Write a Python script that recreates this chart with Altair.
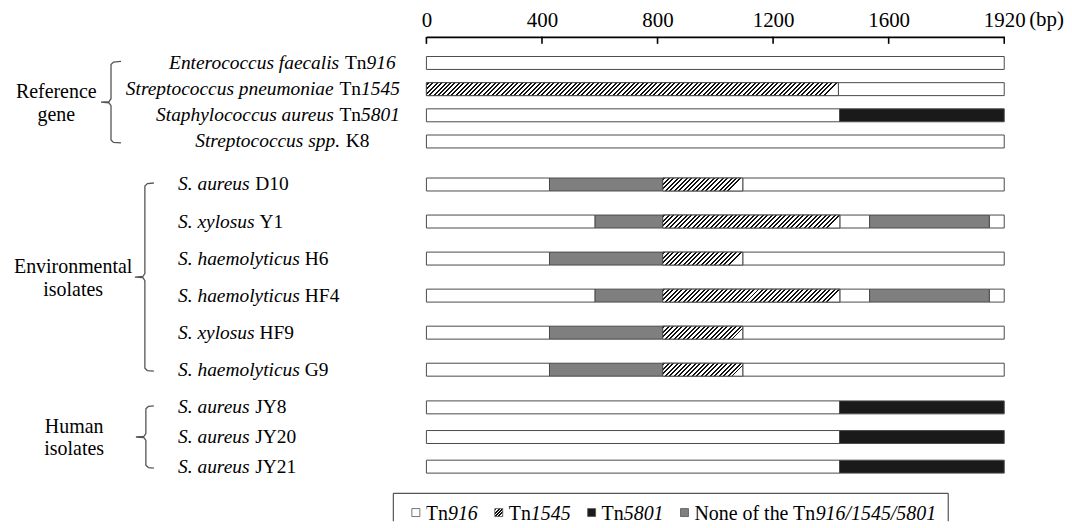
import altair as alt
import pandas as pd

# ------------------------------------------------------------------ data
row_ids = ["ef", "sp", "sa", "ss", "d10", "y1", "h6", "hf4", "hf9", "g9", "jy8", "jy20", "jy21"]
row_group = ["ref", "ref", "ref", "ref", "env", "env", "env", "env", "env", "env", "hum", "hum", "hum"]
label_species = ["Enterococcus faecalis", "Streptococcus pneumoniae", "Staphylococcus aureus",
                 "Streptococcus spp.", "S. aureus", "S. xylosus", "S. haemolyticus",
                 "S. haemolyticus", "S. xylosus", "S. haemolyticus", "S. aureus", "S. aureus",
                 "S. aureus"]
label_strain = ["Tn", "Tn", "Tn", "K8", "D10", "Y1", "H6", "HF4", "HF9", "G9", "JY8", "JY20", "JY21"]
label_number = ["916", "1545", "5801", "", "", "", "", "", "", "", "", "", ""]

group_ids = ["ref", "env", "hum"]
group_lines = [["Reference", "gene"], ["Environmental", "isolates"], ["Human", "isolates"]]

seg_row = ["ef",
           "sp", "sp",
           "sa", "sa",
           "ss",
           "d10", "d10", "d10", "d10",
           "y1", "y1", "y1", "y1", "y1", "y1",
           "h6", "h6", "h6", "h6",
           "hf4", "hf4", "hf4", "hf4", "hf4", "hf4",
           "hf9", "hf9", "hf9", "hf9",
           "g9", "g9", "g9", "g9",
           "jy8", "jy8", "jy20", "jy20", "jy21", "jy21"]
seg_start = [0,
             0, 1426,
             0, 1430,
             0,
             0, 426, 818, 1095,
             0, 584, 818, 1431, 1534, 1879,
             0, 426, 818, 1095,
             0, 584, 818, 1431, 1534, 1879,
             0, 426, 818, 1095,
             0, 426, 818, 1095,
             0, 1430, 0, 1430, 0, 1430]
seg_end = [1920,
           1426, 1920,
           1430, 1920,
           1920,
           426, 818, 1095, 1920,
           584, 818, 1431, 1534, 1879, 1920,
           426, 818, 1095, 1920,
           584, 818, 1431, 1534, 1879, 1920,
           426, 818, 1095, 1920,
           426, 818, 1095, 1920,
           1430, 1920, 1430, 1920, 1430, 1920]
seg_type = ["Tn916",
            "Tn1545", "Tn916",
            "Tn916", "Tn5801",
            "Tn916",
            "Tn916", "None", "Tn1545", "Tn916",
            "Tn916", "None", "Tn1545", "Tn916", "None", "Tn916",
            "Tn916", "None", "Tn1545", "Tn916",
            "Tn916", "None", "Tn1545", "Tn916", "None", "Tn916",
            "Tn916", "None", "Tn1545", "Tn916",
            "Tn916", "None", "Tn1545", "Tn916",
            "Tn916", "Tn5801", "Tn916", "Tn5801", "Tn916", "Tn5801"]

axis_ticks = [0, 400, 800, 1200, 1600, 1920]
axis_unit = "(bp)"

legend_types = ["Tn916", "Tn1545", "Tn5801", "None"]
legend_prefix = ["Tn", "Tn", "Tn", "None of the Tn"]
legend_number = ["916", "1545", "5801", "916/1545/5801"]

# ------------------------------------------------------------------ style / layout
FONT = "Liberation Serif, Times New Roman, serif"
PLOT_LEFT = 426.6                       # page x of 0 bp
PLOT_W = 580
AX_RANGE = [0, 116, 232, 348, 464, 580]  # evenly spaced ticks, as in the figure
AXIS_Y = 35.0
BAR_H = 13.0
ROW_FS = 19.5
GROUP_FS = 20
GROUP_LH = 23
AXIS_FS = 21
LEG_FS = 20
STROKE = "#4a4a4a"
FILLS = {"Tn916": "#ffffff", "Tn1545": "#ffffff", "Tn5801": "#1a1a1a", "None": "#7f7f7f"}

group_first_center = [61.2, 182.4, 405.4]
group_step = [26.27, 37.18, 29.75]
group_label_cx = [55, 72, 73]
bracket_vx = [110, 144, 145]
bracket_hx = [120, 153, 153]
bracket_tx = [100, 134, 135]
bracket_top_ext = [1.5, 1.5, 1.5]
bracket_bot_ext = [1.5, 1.5, 1.5]

W_RM = {' ': 250, '(': 333, ')': 333, '.': 250, '/': 278, 'A': 722, 'D': 722, 'E': 611, 'F': 556,
        'G': 722, 'H': 722, 'J': 389, 'K': 722, 'N': 722, 'T': 611, 'Y': 722, 'a': 444, 'b': 500,
        'e': 444, 'f': 333, 'h': 500, 'n': 500, 'o': 500, 'p': 500, 't': 278}
W_IT = {' ': 250, '.': 250, '/': 278, 'E': 611, 'S': 500, 'a': 500, 'c': 444, 'e': 444, 'f': 278,
        'h': 500, 'i': 278, 'l': 278, 'm': 722, 'n': 500, 'o': 500, 'p': 500, 'r': 389, 's': 389,
        't': 278, 'u': 500, 'x': 444, 'y': 444}


def tw(s, italic, size):
    tbl = W_IT if italic else W_RM
    return sum(tbl.get(ch, 500) for ch in s) * size / 1000.0


def rel(page_x):
    return page_x - PLOT_LEFT


def bp_to_px(v):
    for i in range(len(axis_ticks) - 1):
        a, b = axis_ticks[i], axis_ticks[i + 1]
        if v <= b or i == len(axis_ticks) - 2:
            return AX_RANGE[i] + (v - a) / (b - a) * (AX_RANGE[i + 1] - AX_RANGE[i])


def hatch_fill(wpx, hpx, period=4.5, ink=2.0, color="#111111"):
    r = hpx / wpx
    tmax = wpx * (1 + r * r)
    stops = [{"offset": 0, "color": "#ffffff"}]
    k = 0
    while True:
        a = (k * period + 1.0) / tmax
        b = (k * period + 1.0 + ink) / tmax
        if a >= 1:
            break
        b = min(b, 1.0)
        stops += [{"offset": round(a, 5), "color": "#ffffff"},
                  {"offset": round(a, 5), "color": color},
                  {"offset": round(b, 5), "color": color},
                  {"offset": round(b, 5), "color": "#ffffff"}]
        k += 1
    stops.append({"offset": 1, "color": "#ffffff"})
    return alt.LinearGradient(gradient="linear", stops=stops, x1=0, y1=0, x2=1, y2=round(r, 6))


xscale = alt.Scale(domain=axis_ticks, range=AX_RANGE, nice=False, zero=False)

seg_df = pd.DataFrame({"row": seg_row, "start": seg_start, "end": seg_end, "type": seg_type})
seg_df["wpx"] = [round(bp_to_px(e) - bp_to_px(s), 1) for s, e in zip(seg_start, seg_end)]

# label pieces
pieces = []
for i, rid in enumerate(row_ids):
    parts = [(label_species[i] + " ", True), (label_strain[i], False)]
    if label_number[i]:
        parts.append((label_number[i], True))
    width = sum(tw(t, it, ROW_FS) for t, it in parts)
    if row_group[i] == "ref":
        x0 = min(282 - width / 2, 400 - width)
    else:
        x0 = 177.3
    x = rel(x0)
    for t, it in parts:
        pieces.append({"row": rid, "x": x, "txt": t, "it": it})
        x += tw(t, it, ROW_FS)
pieces_df = pd.DataFrame(pieces)

top_axis = alt.Axis(orient="top", values=axis_ticks, ticks=False, tickSize=0, grid=False,
                    domain=True, domainColor="#000000", domainWidth=1.6,
                    labelFont=FONT, labelFontSize=AXIS_FS, labelColor="#000000",
                    labelPadding=10.6, labelBaseline="alphabetic", labelFlush=False,
                    labelOverlap=False, format="d", title=None)

panels = []
top = AXIS_Y
for gi, gid in enumerate(group_ids):
    rows = [r for r, g in zip(row_ids, row_group) if g == gid]
    n = len(rows)
    s = group_step[gi]
    c0 = group_first_center[gi]
    H = s * (n - 1) + 2 * (c0 - top)
    pi = 1 - BAR_H / s
    po = (c0 - top - BAR_H / 2) / s
    yenc = alt.Y("row:N", sort=rows, axis=None,
                 scale=alt.Scale(domain=rows, paddingInner=pi, paddingOuter=po))
    xaxis = top_axis if gi == 0 else None
    sub = seg_df[seg_df["row"].isin(rows)]
    layers = [
        alt.Chart(sub).mark_bar(stroke=STROKE, strokeWidth=1).encode(
            x=alt.X("start:Q", scale=xscale, axis=xaxis),
            x2="end:Q",
            y=yenc,
            fill=alt.Fill("type:N", legend=None,
                          scale=alt.Scale(domain=list(FILLS.keys()), range=list(FILLS.values()))),
        )
    ]
    hat = sub[sub["type"] == "Tn1545"]
    for w in sorted(set(hat["wpx"])):
        layers.append(
            alt.Chart(hat[hat["wpx"] == w]).mark_bar(
                fill=hatch_fill(w, BAR_H), stroke=STROKE, strokeWidth=1).encode(
                x=alt.X("start:Q", scale=xscale, axis=xaxis), x2="end:Q", y=yenc)
        )
    if gi == 0:
        tick_df = pd.DataFrame({"start": axis_ticks})
        layers.append(
            alt.Chart(tick_df).mark_rule(color="#000000", strokeWidth=1.6).encode(
                x=alt.X("start:Q", scale=xscale, axis=xaxis),
                y=alt.value(0), y2=alt.value(7))
        )
        unit_x = PLOT_W + tw("1920", False, AXIS_FS) / 2 + 4
        layers.append(
            alt.Chart(pd.DataFrame({"u": [axis_unit]})).mark_text(
                font=FONT, fontSize=AXIS_FS, align="left", baseline="alphabetic",
                color="#000000").encode(
                x=alt.value(unit_x), y=alt.value(-10.6), text="u:N")
        )
    pdf = pieces_df[pieces_df["row"].isin(rows)]
    for it in (True, False):
        layers.append(
            alt.Chart(pdf[pdf["it"] == it]).mark_text(
                font=FONT, fontSize=ROW_FS, fontStyle="italic" if it else "normal",
                align="left", baseline="middle", color="#000000").encode(
                x=alt.X("x:Q", scale=None, axis=None), y=yenc, text="txt:N")
        )
    # bracket geometry
    c_first = c0 - top
    c_last = c_first + (n - 1) * s
    bt, bb = c_first - bracket_top_ext[gi], c_last + bracket_bot_ext[gi]
    mid = (bt + bb) / 2
    # group label: two lines centred on the bracket tip
    layers.append(
        alt.Chart(pd.DataFrame({"g": [gid], "lines": [group_lines[gi]]})).mark_text(
            font=FONT, fontSize=GROUP_FS, align="center", baseline="middle",
            lineHeight=GROUP_LH, color="#000000").encode(
            x=alt.value(rel(group_label_cx[gi])),
            y=alt.value(mid - GROUP_LH * (len(group_lines[gi]) - 1) / 2 + 1),
            text="lines:N")
    )
    vx, hx, tx = rel(bracket_vx[gi]), rel(bracket_hx[gi]), rel(bracket_tx[gi])
    bpts = [(hx, bt), (vx + 2.5, bt + 0.6), (vx, bt + 3), (vx, mid - 3.5), (vx - 2, mid - 0.6),
            (tx, mid), (vx - 2, mid + 0.6), (vx, mid + 3.5), (vx, bb - 3), (vx + 2.5, bb - 0.6),
            (hx, bb)]
    bdf = pd.DataFrame({"i": list(range(len(bpts))), "bx": [p[0] for p in bpts],
                        "by": [p[1] for p in bpts]})
    layers.append(
        alt.Chart(bdf).mark_line(color="#555555", strokeWidth=1.3).encode(
            x=alt.X("bx:Q", scale=None, axis=None), y=alt.Y("by:Q", scale=None, axis=None),
            order="i:Q")
    )
    panels.append(alt.layer(*layers).properties(width=PLOT_W, height=H))
    top += H

# ------------------------------------------------------------------ legend panel
LEG_BOTTOM = 519.0
HD = LEG_BOTTOM - top
base = 518.0 - top
sq = 8
x = rel(412)
leg_rows = []
leg_text = []
for t, pre, num in zip(legend_types, legend_prefix, legend_number):
    leg_rows.append({"type": t, "x": x, "x2": x + sq, "y": base - 7.7 - sq / 2, "y2": base - 7.7 + sq / 2})
    x += sq + 6
    leg_text.append({"x": x, "txt": pre, "it": False})
    x += tw(pre, False, LEG_FS)
    leg_text.append({"x": x, "txt": num, "it": True})
    x += tw(num, True, LEG_FS) + 17
text_end = x - 17
box_l, box_t, box_r = rel(393.4), 491.0 - top, text_end + 12
leg_df = pd.DataFrame(leg_rows)
legt_df = pd.DataFrame(leg_text)
box_df = pd.DataFrame({"x": [box_l, box_l, box_r], "x2": [box_r, box_l, box_r],
                       "y": [box_t, box_t, box_t], "y2": [box_t, HD, HD]})

leg_layers = [
    alt.Chart(box_df).mark_rule(color="#555555", strokeWidth=1.2).encode(
        x=alt.X("x:Q", scale=None, axis=None), x2="x2:Q",
        y=alt.Y("y:Q", scale=None, axis=None), y2="y2:Q"),
    alt.Chart(leg_df[leg_df["type"] != "Tn1545"]).mark_rect(stroke="#555555", strokeWidth=0.8).encode(
        x=alt.X("x:Q", scale=None, axis=None), x2="x2:Q",
        y=alt.Y("y:Q", scale=None, axis=None), y2="y2:Q",
        fill=alt.Fill("type:N", legend=None,
                      scale=alt.Scale(domain=list(FILLS.keys()), range=list(FILLS.values())))),
    alt.Chart(leg_df[leg_df["type"] == "Tn1545"]).mark_rect(
        fill=hatch_fill(sq, sq, period=3.2, ink=1.5), stroke="#555555", strokeWidth=0.8).encode(
        x=alt.X("x:Q", scale=None, axis=None), x2="x2:Q",
        y=alt.Y("y:Q", scale=None, axis=None), y2="y2:Q"),
]
for it in (True, False):
    leg_layers.append(
        alt.Chart(legt_df[legt_df["it"] == it]).mark_text(
            font=FONT, fontSize=LEG_FS, fontStyle="italic" if it else "normal", align="left",
            baseline="alphabetic", color="#000000", clip=True).encode(
            x=alt.X("x:Q", scale=None, axis=None), y=alt.value(base), text="txt:N")
    )
panels.append(alt.layer(*leg_layers).properties(width=PLOT_W, height=HD))

chart = (
    alt.vconcat(*panels, spacing=0, bounds="flush")
    .properties(padding={"left": 5, "top": 0, "right": 0, "bottom": 0})
    .configure(background="#ffffff", font=FONT)
    .configure_view(stroke="transparent", strokeWidth=0)
)

chart.save("out.html", embed_options={"renderer": "svg", "actions": False})
